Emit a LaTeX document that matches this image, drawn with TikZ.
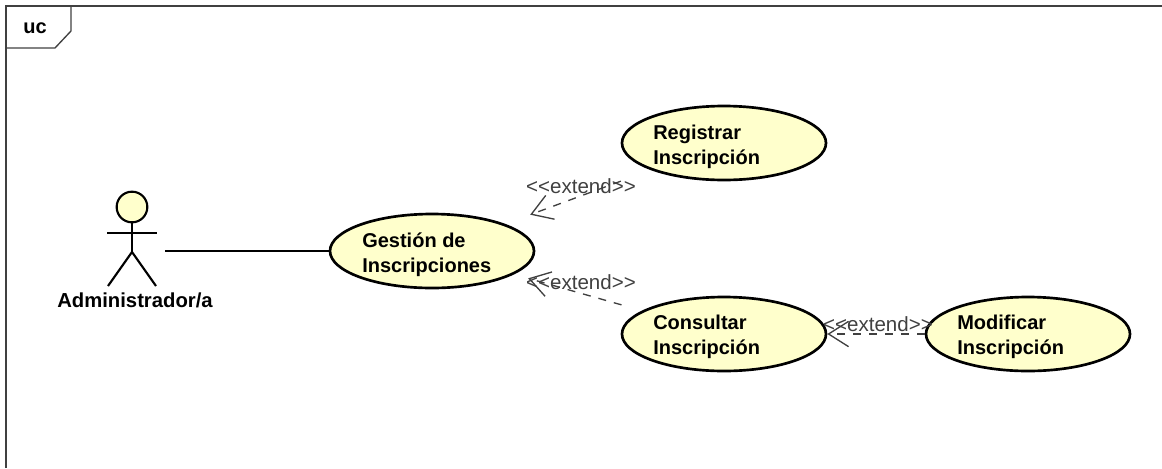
\documentclass[tikz,border=0pt]{standalone}
\usepackage{fontspec}
\setmainfont{Liberation Sans}
\usetikzlibrary{arrows.meta,shapes.geometric}
\definecolor{ucfill}{HTML}{FFFFCC}
\definecolor{framegray}{HTML}{404040}
\definecolor{relgray}{HTML}{404040}
\tikzset{
  usecase/.style={draw=black,line width=2pt,fill=ucfill,ellipse,inner sep=0pt,minimum width=153pt,minimum height=55.5pt},
  uctext/.style={anchor=west,align=left,inner sep=0pt,font=\fontsize{15}{18.4}\selectfont\bfseries},
  stereo/.style={inner sep=0pt,text=relgray,font=\fontsize{15.4}{18}\selectfont},
  extendrel/.style={draw=relgray,line width=1pt,dash pattern=on 6pt off 6pt,
    -{Straight Barb[length=15pt,width=19pt,line width=1pt]}},
  actorline/.style={draw=black,line width=1.6pt},
  frameline/.style={draw=framegray,line width=1.5pt}
}
\begin{document}
\begin{tikzpicture}[x=0.75pt,y=-0.75pt]
\useasboundingbox (0,0) rectangle (1162,468);
% frame
\draw[frameline] (6,468) -- (6,6) -- (1162,6);
\draw[draw=framegray,line width=1pt] (71,6) -- (71,31) -- (55,48) -- (6,48);
\node[inner sep=0pt,font=\fontsize{15}{18}\selectfont\bfseries] (uc) at (35,28) {uc};
% use cases
\node[usecase] (ges) at (432,251) {};
\node[usecase] (reg) at (724,143) {};
\node[usecase] (con) at (724,334) {};
\node[usecase] (mod) at (1028,334) {};
\node[uctext] (gestxt) at (362,255) {Gestión de\\Inscripciones};
\node[uctext] (regtxt) at (653,147) {Registrar\\Inscripción};
\node[uctext] (contxt) at (653,337) {Consultar\\Inscripción};
\node[uctext] (modtxt) at (957,337) {Modificar\\Inscripción};
% actor
\node[circle,draw=black,line width=1.6pt,fill=ucfill,minimum size=23pt,inner sep=0pt] (head) at (132,207) {};
\coordinate (hip) at (132,252);
\coordinate (armL) at (107,233);
\coordinate (armR) at (157,233);
\coordinate (legL) at (108,286);
\coordinate (legR) at (156,286);
\draw[actorline] (head) -- (hip);
\draw[actorline] (armL) -- (armR);
\draw[actorline] (legL) -- (hip) -- (legR);
\node[inner sep=0pt,font=\fontsize{15.2}{18}\selectfont\bfseries] (actor) at (135,300) {Administrador/a};
% connectors
\coordinate (assoc) at (165,251);
\draw[draw=black,line width=1pt] (assoc) -- (ges);
\draw[extendrel,shorten >=20pt,shorten <=24pt] (reg) -- (ges);
\draw[extendrel,shorten >=11pt,shorten <=16pt] (con) -- (ges);
\draw[extendrel] (mod) -- (con);
\node[stereo] (e1) at (581,186) {<{}<extend>{}>};
\node[stereo] (e2) at (581,282) {<{}<extend>{}>};
\node[stereo] (e3) at (878,324) {<{}<extend>{}>};
\end{tikzpicture}
\end{document}
